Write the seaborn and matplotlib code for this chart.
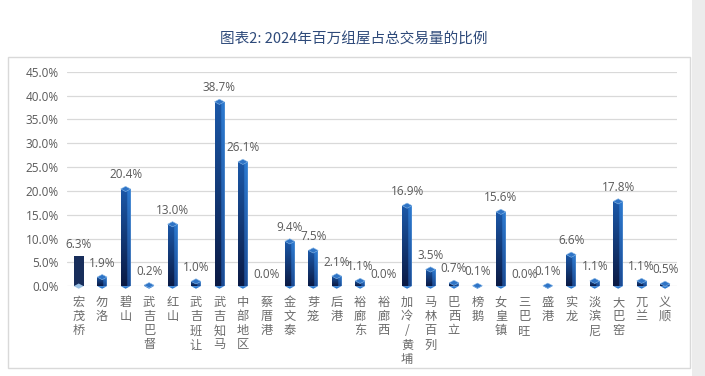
import numpy as np
import pandas as pd
import matplotlib
matplotlib.use('Agg')
import matplotlib.pyplot as plt
from matplotlib.colors import to_rgb
from matplotlib.patches import Polygon, Rectangle
import seaborn as sns

# data
towns = ['宏茂桥', '勿洛', '碧山', '武吉巴督', '红山', '武吉班让', '武吉知马', '中部地区',
         '蔡厝港', '金文泰', '芽笼', '后港', '裕廊东', '裕廊西', '加冷/黄埔', '马林百列',
         '巴西立', '榜鹅', '女皇镇', '三巴旺', '盛港', '实龙', '淡滨尼', '大巴窑', '兀兰', '义顺']
shares = [6.3, 1.9, 20.4, 0.2, 13.0, 1.0, 38.7, 26.1, 0.0, 9.4, 7.5, 2.1, 1.1, 0.0,
          16.9, 3.5, 0.7, 0.1, 15.6, 0.0, 0.1, 6.6, 1.1, 17.8, 1.1, 0.5]
yticks = [0, 5, 10, 15, 20, 25, 30, 35, 40, 45]

df = pd.DataFrame({'town': towns, 'share': shares})

sns.set_style('white')
plt.rcParams['font.family'] = ['Open Sans', 'Noto Sans CJK SC', 'DejaVu Sans']

fig = plt.figure(figsize=(7.05, 3.76), dpi=100)
ax = fig.add_axes([0.095, 0.239, 0.865, 0.570])

sns.barplot(data=df, x='town', y='share', ax=ax, width=0.42, color='#0d2a66',
            edgecolor='none', zorder=2)

ax.set_xlim(-0.5, len(towns) - 0.5)
ax.set_ylim(0, 45)
ax.set_yticks(yticks)
ax.set_yticklabels([f'{v:.1f}%' for v in yticks], color='#595959', fontsize=8.5)
ax.set_xticks(range(len(towns)))
ax.set_xticklabels(['\n'.join(t) for t in towns], color='#6b6b6b', fontsize=8.8,
                   family=['Noto Sans CJK SC', 'DejaVu Sans'], linespacing=1.12)
ax.tick_params(axis='both', length=0, pad=6)
ax.tick_params(axis='x', pad=7)
ax.set_xlabel('')
ax.set_ylabel('')
ax.grid(axis='y', color='#d9d9d9', lw=0.9, zorder=0)
ax.set_axisbelow(True)
for s in ax.spines.values():
    s.set_visible(False)

# gradient for prism-like bars
ny, nx = 64, 24
ty = np.linspace(1, 0, ny)[:, None, None]
left_top, left_bot = np.array(to_rgb('#0b1a44')), np.array(to_rgb('#1b58a8'))
right_top, right_bot = np.array(to_rgb('#1c4a92')), np.array(to_rgb('#2d7ad0'))
cols = np.linspace(0, 1, nx)
face = (cols > 0.62)[None, :, None]
left = left_bot + (left_top - left_bot) * (1 - ty)
right = right_bot + (right_top - right_bot) * (1 - ty)
grad = np.where(face, right, left)
grad[:, -1, :] = to_rgb('#6fa6de')
grad = grad[::-1]

d = 0.55
for i, (patch, v) in enumerate(zip(ax.patches, shares)):
    x0, w, h = patch.get_x(), patch.get_width(), patch.get_height()
    xc = x0 + w / 2
    if v == 0:
        continue
    if i == 0:
        ax.add_patch(Polygon([(x0, 0), (xc, d), (x0 + w, 0), (xc, -d)], closed=True,
                             fc='#9dc3e6', ec='none', zorder=3, clip_on=False))
        top = h
    else:
        patch.set_facecolor('none')
        im = ax.imshow(grad, extent=[x0, x0 + w, 0, h], aspect='auto',
                       origin='lower', zorder=3, interpolation='bilinear')
        im.set_clip_path(patch)
        ax.add_patch(Polygon([(x0, 0), (xc, -d), (x0 + w, 0)], closed=True,
                             fc='#2d7ad0', ec='none', zorder=3, clip_on=False))
        ax.add_patch(Polygon([(x0, h), (xc, h + d), (x0 + w, h), (xc, h - d)], closed=True,
                             fc='#2f74c6', ec='#8dbbe8', lw=0.4, zorder=4, clip_on=False))
        top = h + d
    ax.annotate(f'{v:.1f}%', (xc, top), xytext=(0, 3.5), textcoords='offset points',
                ha='center', va='bottom', fontsize=8.5, color='#595959', zorder=5)
# zero bars still get a label
for i, v in enumerate(shares):
    if v == 0:
        ax.annotate(f'{v:.1f}%', (i, 0), xytext=(0, 3.5), textcoords='offset points',
                    ha='center', va='bottom', fontsize=8.5, color='#595959', zorder=5)

ax.set_xlim(-0.5, len(towns) - 0.5)
ax.set_ylim(0, 45)

# frame and page shading
fig.patches.append(Rectangle((0.011, 0.021), 0.968, 0.827, transform=fig.transFigure,
                             fill=False, ec='#d9d9d9', lw=1))
fig.patches.append(Rectangle((0.982, 0), 0.018, 1, transform=fig.transFigure,
                             fc='#ececec', ec='none'))

fig.text(0.502, 0.894, '图表2: 2024年百万组屋占总交易量的比例', ha='center', va='center',
         fontsize=10.5, color='#2e4a7a', family=['Noto Sans CJK SC', 'DejaVu Sans'])

fig.savefig('out.png', dpi=100)
